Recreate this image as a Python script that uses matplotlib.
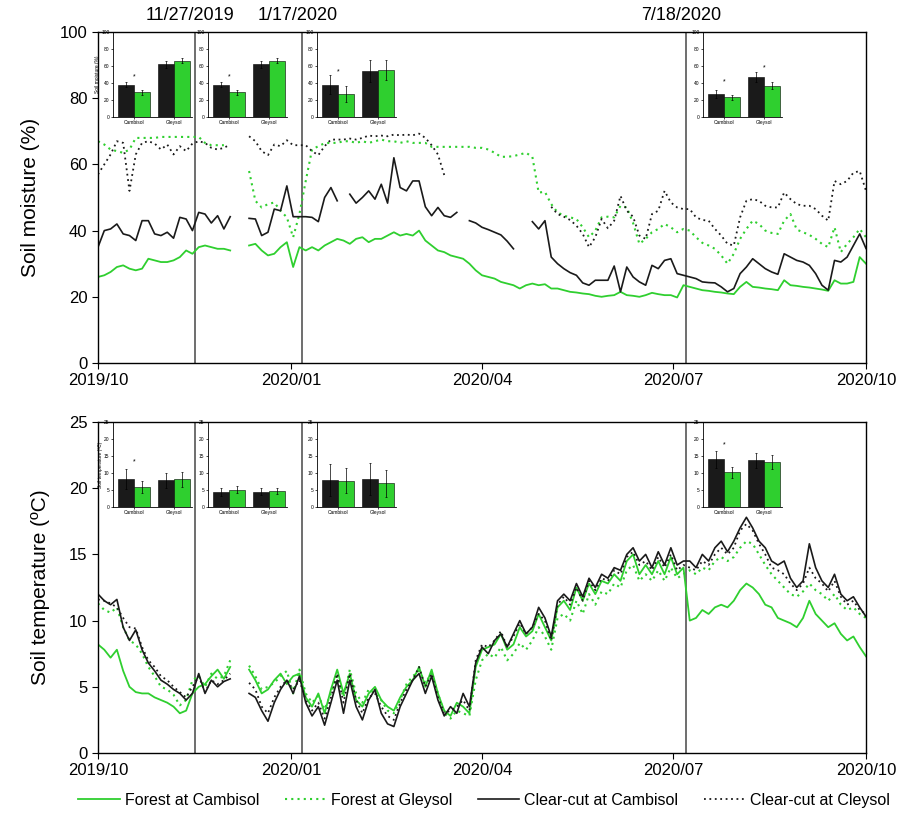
import numpy as np
import pandas as pd
import matplotlib
matplotlib.use('Agg')
import matplotlib.pyplot as plt
import matplotlib.dates as mdates

plt.rcParams['font.family'] = ['Liberation Sans', 'DejaVu Sans']

nan = np.nan

# one reading every 3 days, 2019-10-01 .. 2020-10-01
dates = pd.date_range('2019-10-01', periods=123, freq='3D')

# ---------------- soil moisture (%) ----------------
moist_forest_cambisol = [
    26, 26.5, 27.5, 29, 29.5, 28.5, 28, 28.5, 31.5, 31, 30.5, 30.5, 31, 32, 34, 33, 35, 35.5, 35, 34.5,
    34.5, 34, nan, nan, 35.5, 36, 34, 32.5, 33, 35, 36.5, 29, 35, 34, 35, 34, 35.5, 36.5, 37.5, 37,
    36, 37.5, 38, 36.5, 37.5, 37.5, 38.5, 39.5, 38.5, 39, 38.5, 40, 37, 35.5, 34, 33.5, 32.5, 32, 31.5, 30,
    28, 26.5, 26, 25.5, 24.5, 24, 23.5, 22.5, 23.5, 24, 23.5, 23.8, 22.5, 22.5, 22, 21.5, 21.3, 21, 20.8, 20.3,
    20, 20.3, 20.5, 21.5, 20.5, 20.3, 20, 20.5, 21.2, 20.8, 20.5, 20.5, 19.8, 23.5, 23, 22.5, 22, 21.8, 21.5, 21.3,
    21, 20.8, 23, 24.5, 23, 22.8, 22.5, 22.3, 22, 25, 23.5, 23.3, 23, 22.8, 22.5, 22.2, 21.8, 25, 24, 24,
    24.5, 32, 30]
moist_forest_gleysol = [
    67, 66, 64.5, 64, 63.5, 64.5, 68, 68, 68, 68, 68.3, 68.3, 68.3, 68.3, 68.3, 68.3, 68.3, 66.5, 65.8, 65.8,
    65.8, nan, nan, nan, 58, 49, 47, 48, 48.5, 46, 44, 38, 45, 55, 64.5, 65.5, 66.4, 66.5, 66.5, 67,
    67, 66.5, 67, 66.5, 67, 67.5, 67, 67, 66.5, 67, 66.5, 66.5, 66.5, 65.3, 65.3, 65.3, 65.3, 65.3, 65.3, 65.3,
    65, 65, 64.5, 63.5, 62.3, 62.3, 62.5, 63, 63.5, 62.3, 51.5, 51.7, 48, 45.5, 44.5, 44, 43.5, 41, 38, 40,
    44, 44.2, 44, 47.5, 47, 42.3, 36, 37.5, 39.5, 40.5, 42, 41, 39.5, 40.5, 40, 38, 36.3, 35.5, 34.5, 32.5,
    30, 33, 37.5, 40.5, 43, 42, 40, 39.3, 39, 43, 45, 40.3, 39.5, 38.7, 37.5, 36, 35, 41, 33.5, 36,
    38, 40.5, 38]
moist_clearcut_cambisol = [
    35, 40, 40.5, 42, 39, 38.5, 37, 43, 43, 39, 38.5, 39.5, 37.7, 44, 43.5, 40, 45.5, 45, 42.3, 44.5,
    40.5, 44.2, nan, nan, 43.7, 43.5, 38.5, 39.5, 46.5, 46, 53.5, 44.2, 44.2, 44.2, 44, 42.7, 50, 53, 49, nan,
    51, 48.3, 50, 52, 49.5, 54, 48.3, 62, 53, 52, 55, 55, 47.2, 44.5, 47, 44.5, 44, 45.5, nan, 43,
    42.3, 41, 40.3, 39.5, 38.7, 36.8, 34.5, nan, nan, 42.7, 40.5, 43, 32, 30, 28.5, 27.3, 26.5, 24.2, 23.5, 25,
    25, 25, 29.3, 21.5, 29, 26, 24.5, 23.5, 29.5, 28.5, 31, 31.5, 27, 26.5, 26, 25.5, 24.5, 24.3, 24.2, 23,
    21.5, 22.5, 27, 29, 31.5, 30, 28.5, 27.5, 26.8, 33, 32, 31, 30.5, 29.5, 27, 23.5, 22, 31, 30.5, 32,
    35.5, 39, 34.6]
moist_clearcut_gleysol = [
    57, 60, 63, 67, 66.5, 52, 63, 66.5, 67, 66.3, 64.5, 66, 63, 65.5, 64, 66.3, 67, 66.5, 65, 64.5,
    65, 66, nan, nan, 68.5, 67, 64, 62.8, 66, 65.5, 67.3, 65.8, 65.8, 65.8, 64, 62.8, 65.5, 67.5, 67.5, 67.5,
    67.8, 67.5, 68, 68.7, 68.5, 68.7, 68.5, 69, 68.8, 69, 68.8, 69.3, 68, 65.8, 63, 56.8, nan, nan, nan, nan,
    nan, nan, nan, nan, nan, nan, nan, nan, nan, nan, nan, nan, 47.2, 45, 44.2, 43.2, 41.5, 39, 35, 38,
    43.5, 40.7, 43, 50.5, 46, 44.2, 38.5, 37.5, 45, 46, 52, 48.5, 47, 46.5, 46.5, 44, 43.2, 43, 40.5, 38.5,
    36, 35.5, 44, 49, 49.5, 49, 47.5, 47, 47, 51.5, 49.5, 48, 47.5, 47.5, 46.5, 44.5, 43, 55, 54, 55,
    57.5, 58, 52]

# ---------------- soil temperature (ºC) ----------------
temp_forest_cambisol = [
    8.2, 7.8, 7.2, 7.8, 6.2, 5.0, 4.6, 4.5, 4.5, 4.2, 4.0, 3.8, 3.5, 3.0, 3.2, 4.5, 5.0, 5.2, 5.8, 6.3,
    5.6, 6.5, nan, nan, 6.3, 5.5, 4.5, 4.8, 5.5, 6.0, 5.2, 5.8, 6.0, 4.2, 3.5, 4.5, 3.0, 4.8, 6.3, 4.5,
    6.0, 4.0, 3.5, 4.5, 5.0, 4.0, 3.5, 3.2, 4.2, 5.0, 5.5, 6.5, 5.0, 6.3, 4.5, 3.2, 2.8, 3.8, 3.5, 3.0,
    6.5, 7.8, 8.0, 8.2, 9.0, 7.8, 8.2, 9.5, 8.8, 9.2, 10.5, 9.5, 8.5, 11.0, 11.5, 10.8, 12.5, 11.5, 12.8, 12.0,
    13.0, 12.8, 13.5, 13.0, 14.5, 15.0, 13.5, 14.2, 13.5, 14.5, 13.5, 14.8, 13.5, 14.0, 10.0, 10.2, 10.8, 10.5, 11.0, 11.2,
    11.0, 11.5, 12.3, 12.8, 12.5, 12.0, 11.2, 11.0, 10.2, 10.0, 9.8, 9.5, 10.2, 11.5, 10.5, 10.0, 9.5, 9.8, 9.0, 8.5,
    8.8, 8.0, 7.3]
temp_forest_gleysol = [
    11.3, 10.8, 10.6, 11.0, 9.5, 8.5, 8.2, 7.5, 6.5, 5.8, 5.0, 4.8, 4.4, 3.6, 4.0, 5.5, 5.8, 5.0, 6.0, 5.6,
    5.8, 7.0, nan, nan, 6.6, 5.8, 4.8, 5.0, 5.3, 5.8, 6.2, 4.5, 6.3, 4.5, 3.8, 4.3, 3.3, 4.5, 5.8, 4.2,
    6.3, 4.5, 3.8, 4.8, 4.5, 4.0, 3.2, 3.0, 4.0, 5.2, 5.8, 6.2, 5.3, 6.0, 4.5, 3.0, 2.6, 3.2, 3.0, 2.8,
    5.5, 7.0, 7.5, 7.2, 8.0, 7.0, 7.5, 8.3, 7.8, 8.5, 9.5, 8.8, 7.8, 10.2, 10.5, 10.0, 11.5, 10.5, 12.0, 11.2,
    12.2, 12.0, 12.8, 12.5, 13.8, 14.2, 13.0, 13.5, 13.0, 13.8, 13.0, 14.0, 13.2, 13.5, 13.8, 13.5, 14.0, 13.8, 14.5, 14.8,
    14.5, 14.8, 15.5, 16.0, 15.8, 15.0, 14.2, 13.5, 13.0, 12.5, 12.0, 11.8, 12.2, 12.8, 12.3, 12.0, 11.5, 12.0, 11.2, 10.8,
    11.0, 10.5, 10.2]
temp_clearcut_cambisol = [
    12.0, 11.5, 11.2, 11.6, 9.5, 8.5, 9.3, 7.8, 6.8, 6.2, 5.5, 5.2, 4.8, 4.5, 4.0, 4.5, 6.0, 4.5, 5.5, 5.0,
    5.4, 5.6, nan, nan, 4.5, 4.2, 3.2, 2.4, 3.8, 4.8, 5.5, 4.5, 5.8, 3.8, 2.8, 3.5, 2.1, 3.8, 5.5, 3.0,
    5.5, 3.5, 2.5, 4.0, 4.8, 3.0, 2.2, 2.0, 3.5, 4.5, 5.5, 6.0, 4.5, 5.8, 4.0, 2.8, 3.5, 3.0, 4.5, 3.5,
    6.8, 8.0, 7.5, 8.5, 9.0, 8.0, 9.0, 10.0, 9.0, 9.5, 11.0, 10.2, 8.8, 11.5, 12.0, 11.5, 12.8, 11.8, 13.2, 12.5,
    13.5, 13.2, 14.0, 13.8, 15.0, 15.5, 14.5, 15.0, 14.0, 15.2, 14.2, 15.5, 14.2, 14.5, 14.5, 14.0, 15.0, 14.5, 15.5, 16.0,
    15.2, 16.0, 17.0, 17.8, 17.0, 16.0, 15.5, 14.5, 14.2, 14.5, 13.2, 12.5, 13.0, 15.8, 14.0, 13.0, 12.5, 13.5, 12.0, 11.5,
    11.8, 11.0, 10.3]
temp_clearcut_gleysol = [
    11.6, 11.5, 11.3, 11.0, 10.2, 9.5, 9.4, 8.0, 7.0, 6.5, 5.8, 5.5, 5.0, 4.6, 4.2, 5.0, 5.8, 4.6, 5.5, 5.2,
    5.5, 6.0, nan, nan, 5.3, 4.8, 3.5, 3.0, 4.2, 5.0, 5.5, 4.8, 5.5, 4.0, 3.2, 3.8, 2.6, 4.2, 6.0, 3.8,
    6.0, 4.0, 3.0, 4.2, 4.5, 3.5, 2.8, 2.5, 3.8, 4.8, 5.5, 6.5, 5.0, 6.0, 4.2, 3.0, 3.2, 3.5, 4.0, 3.2,
    7.0, 8.2, 8.0, 8.5, 9.2, 8.0, 8.8, 9.8, 9.0, 9.5, 10.5, 10.0, 8.5, 11.2, 11.8, 11.2, 12.5, 11.5, 13.0, 12.3,
    13.2, 13.0, 13.8, 13.5, 14.8, 15.2, 14.2, 14.5, 13.8, 14.8, 14.0, 15.0, 13.8, 14.2, 14.0, 13.8, 14.5, 14.2, 15.0, 15.5,
    15.0, 15.5, 16.8, 17.3, 16.8, 15.8, 15.0, 14.0, 13.8, 13.5, 12.8, 12.3, 12.8, 14.0, 13.2, 12.8, 12.2, 13.0, 11.8, 11.2,
    11.5, 10.8, 10.5]

# sampling events (vertical lines) and their labels
event_dates = pd.to_datetime(['2019-11-16', '2020-01-06', '2020-07-07'])
event_labels = ['11/27/2019', '1/17/2020', '7/18/2020']

# inset bar charts, one entry per event
# order of values: (Cambisol clear-cut, Cambisol forest, Gleysol clear-cut, Gleysol forest)
inset_moist_mean = [[38, 29, 62, 66], [38, 29, 62, 66], [38, 27, 54, 55], [27, 23, 47, 37]]
inset_moist_err = [[3, 3, 4, 3], [3, 3, 4, 3], [11, 9, 13, 12], [5, 3, 6, 4]]
inset_moist_star = [[47, None], [47, None], [53, None], [41, 58]]
inset_temp_mean = [[8.3, 5.8, 7.9, 8.1], [4.3, 5.1, 4.5, 4.7], [8.0, 7.7, 8.3, 7.0], [14.0, 10.2, 13.7, 13.3]]
inset_temp_err = [[2.9, 1.8, 2.2, 2.2], [1.2, 1.0, 1.0, 1.0], [4.7, 3.7, 4.7, 4.0], [2.5, 1.6, 2.2, 2.0]]
inset_temp_star = [[13.2, None], [None, None], [None, None], [18.2, None]]
soil_names = ['Cambisol', 'Gleysol']

GREEN = '#2fcf2f'
BLACK = '#1a1a1a'
GRAY_LINE = '#555555'

fig = plt.figure(figsize=(9, 8.13), dpi=100)
ax_top = fig.add_axes([98 / 900, 1 - 363 / 813, 768 / 900, 331 / 813])
ax_bot = fig.add_axes([98 / 900, 1 - 753 / 813, 768 / 900, 331 / 813])


def draw_panel(ax, fc, fg, cc, cg, ylim, yticks, ylabel):
    # four daily series
    ax.plot(dates, fc, color=GREEN, lw=1.3, label='Forest at Cambisol')
    ax.plot(dates, fg, color=GREEN, lw=1.5, ls=(0, (1, 2)), label='Forest at Gleysol')
    ax.plot(dates, cc, color=BLACK, lw=1.2, label='Clear-cut at Cambisol')
    ax.plot(dates, cg, color=BLACK, lw=1.3, ls=(0, (1, 2)), label='Clear-cut at Cleysol')
    for d in event_dates:
        ax.axvline(d, color=GRAY_LINE, lw=1.2, zorder=0)
    ax.set_xlim(pd.Timestamp('2019-10-01'), pd.Timestamp('2020-10-01'))
    ax.set_ylim(*ylim)
    ax.set_yticks(yticks)
    ax.set_ylabel(ylabel, fontsize=15, labelpad=14)
    ax.xaxis.set_major_locator(mdates.MonthLocator(bymonth=[1, 4, 7, 10]))
    ax.xaxis.set_major_formatter(mdates.DateFormatter('%Y/%m'))
    ax.tick_params(labelsize=12, direction='out', length=4)
    for s in ax.spines.values():
        s.set_linewidth(1.0)


draw_panel(ax_top, moist_forest_cambisol, moist_forest_gleysol, moist_clearcut_cambisol,
           moist_clearcut_gleysol, (0, 100), range(0, 101, 20), 'Soil moisture (%)')
draw_panel(ax_bot, temp_forest_cambisol, temp_forest_gleysol, temp_clearcut_cambisol,
           temp_clearcut_gleysol, (0, 25), range(0, 26, 5), 'Soil temperature (ºC)')

# labels of the sampling dates above the top panel
for d, lab in zip(event_dates, event_labels):
    ax_top.annotate(lab, xy=(mdates.date2num(d), 1.0), xycoords=('data', 'axes fraction'),
                    xytext=(-3, 6), textcoords='offset points', ha='center', va='bottom', fontsize=13)

# legend row under the bottom panel
fig.legend(*ax_bot.get_legend_handles_labels(), loc='center', bbox_to_anchor=(0.538, 1 - 800 / 813),
           ncol=4, frameon=False, fontsize=11.5, handlelength=2.6, columnspacing=1.6, handletextpad=0.3,
           borderpad=0.1, borderaxespad=0.1)


def draw_inset(x0, y0, means, errs, stars, ymax, ystep, ylabel=None):
    # x0, y0: pixel position of the inset's left spine / top
    ax = fig.add_axes([x0 / 900, 1 - (y0 + 85) / 813, 79 / 900, 85 / 813])
    xs = [0.8, 1.8, 3.3, 4.3]
    cols = [BLACK, GREEN, BLACK, GREEN]
    ax.bar(xs, means, width=1.0, color=cols, edgecolor='black', linewidth=0.4)
    ax.errorbar(xs, means, yerr=errs, fmt='none', ecolor='black', elinewidth=0.5, capsize=1, capthick=0.5)
    for gx, s in zip([1.3, 3.8], stars):
        if s is not None:
            ax.text(gx, s, '*', ha='center', va='center', fontsize=5)
    ax.set_xlim(0, 4.9)
    ax.set_ylim(0, ymax)
    ax.set_yticks(np.arange(0, ymax + 0.1, ystep))
    ax.set_xticks([1.3, 3.8])
    ax.set_xticklabels(soil_names)
    ax.tick_params(labelsize=3.5, length=1.5, width=0.5, pad=1)
    ax.spines['top'].set_visible(False)
    ax.spines['right'].set_visible(False)
    ax.spines['left'].set_linewidth(0.6)
    ax.spines['bottom'].set_linewidth(0.6)
    ax.patch.set_alpha(0)
    if ylabel:
        ax.set_ylabel(ylabel, fontsize=3.5, labelpad=1)


inset_x = [113, 208, 317, 703]
for k in range(4):
    draw_inset(inset_x[k], 32, inset_moist_mean[k], inset_moist_err[k], inset_moist_star[k], 100, 20,
               'Soil moisture (%)' if k == 0 else None)
    draw_inset(inset_x[k], 422, inset_temp_mean[k], inset_temp_err[k], inset_temp_star[k], 25, 5,
               'Soil temperature (ºC)' if k == 0 else None)

fig.savefig('out.png', dpi=100)
